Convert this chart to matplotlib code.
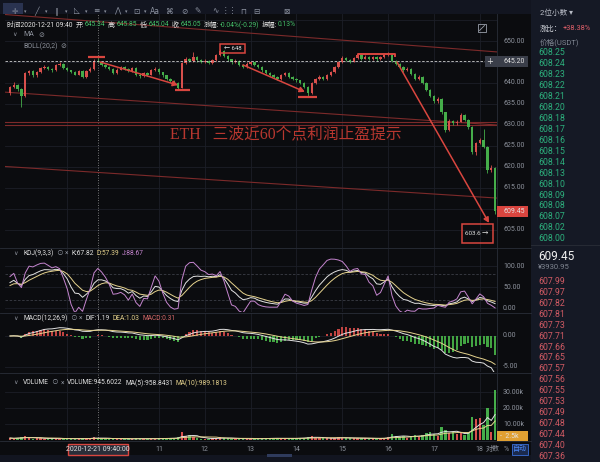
import numpy as np
import pandas as pd
import matplotlib
matplotlib.use("Agg")
import matplotlib.pyplot as plt
from matplotlib.patches import Rectangle, FancyArrowPatch

plt.rcParams['font.family'] = ['Roboto', 'Noto Sans CJK SC', 'DejaVu Sans']

# ---------------- data: ETH/USDT 5-minute candles, 2020-12-21 ----------------
first_bar_minute = 7 * 60 + 45      # 07:45
bar_minutes = 5
first_open = 637.6
close = [
    639.0, 639.5, 638.5, 636.9, 642.3, 642.8, 641.8, 642.6, 643.5, 643.9,
    643.3, 643.0, 644.2, 644.5, 643.6, 643.0, 642.6, 642.0, 642.8, 641.4,
    642.9, 643.4, 645.34, 645.05, 644.3, 643.9, 643.3, 642.4, 643.2, 643.8,
    643.4, 642.9, 643.6, 642.0, 641.6, 642.4, 642.0, 643.0, 643.4, 642.5,
    641.8, 641.0, 640.5, 640.0, 638.9, 644.8, 645.8, 645.2, 646.2, 645.4,
    645.0, 645.3, 644.8, 645.5, 646.6, 647.6, 646.4, 645.6, 644.9, 645.3,
    644.4, 643.8, 644.6, 644.9, 644.4, 643.8, 643.0, 642.4, 642.0, 641.5,
    641.0, 641.8, 642.3, 641.5, 641.0, 640.6, 640.0, 639.0, 637.6, 640.0,
    641.0, 641.4, 641.0, 641.8, 642.6, 643.8, 645.0, 646.0, 645.5, 645.1,
    646.0, 646.7, 645.8, 646.3, 645.7, 646.2, 645.6, 646.1, 646.6, 647.0,
    645.2, 644.6, 643.8, 643.0, 643.4, 642.2, 641.0, 641.5, 640.0, 638.4,
    637.0, 635.6, 636.2, 633.0, 628.8, 631.0, 630.4, 630.8, 632.4, 631.2,
    629.5, 623.6, 625.7, 626.4, 624.8, 619.3, 619.8, 609.45,
]
high = [
    639.4, 640.2, 639.8, 638.8, 642.6, 643.2, 643.0, 642.9, 643.8, 644.2,
    644.1, 643.6, 644.5, 644.9, 644.7, 643.8, 643.2, 642.8, 643.1, 643.0,
    643.2, 643.8, 645.7, 645.85, 645.3, 644.6, 644.1, 643.5, 643.5, 644.1,
    644.0, 643.6, 643.9, 643.8, 642.3, 642.7, 642.6, 643.3, 643.8, 643.6,
    642.7, 642.0, 641.2, 640.8, 640.2, 645.1, 646.2, 646.0, 647.4, 646.4,
    645.7, 645.6, 645.5, 645.8, 646.9, 648.0, 647.8, 646.6, 645.8, 645.6,
    645.5, 644.6, 644.9, 645.2, 645.1, 644.6, 644.0, 643.2, 642.6, 642.2,
    641.7, 642.1, 642.6, 642.5, 641.7, 641.2, 640.8, 640.2, 639.2, 640.3,
    641.3, 641.8, 641.6, 642.1, 642.9, 644.1, 645.3, 646.4, 646.2, 645.7,
    646.3, 647.2, 646.9, 646.6, 646.5, 646.5, 646.4, 646.4, 646.9, 647.3,
    647.2, 645.4, 644.8, 644.0, 643.7, 643.6, 642.4, 641.8, 641.7, 640.2,
    638.6, 637.2, 636.6, 636.4, 633.2, 631.4, 631.3, 631.2, 632.8, 632.6,
    631.4, 629.7, 626.0, 626.8, 629.0, 625.0, 620.4, 620.0,
]
low = [
    637.2, 638.8, 638.2, 634.2, 636.6, 642.0, 641.4, 641.5, 642.4, 643.3,
    643.0, 642.7, 642.8, 644.0, 643.3, 642.8, 642.3, 641.8, 641.8, 641.1,
    641.2, 642.7, 643.2, 645.04, 644.0, 643.6, 643.0, 642.1, 642.2, 643.0,
    643.1, 642.6, 642.7, 641.7, 641.3, 641.4, 641.7, 641.8, 642.8, 642.2,
    641.5, 640.7, 640.2, 639.7, 638.3, 638.7, 644.6, 644.9, 645.0, 645.1,
    644.7, 644.8, 644.5, 644.6, 645.3, 646.4, 646.1, 645.3, 644.6, 644.7,
    644.1, 643.5, 643.6, 644.4, 644.1, 643.5, 642.7, 642.1, 641.7, 641.2,
    640.7, 640.8, 641.6, 641.2, 640.7, 640.3, 639.7, 638.7, 636.9, 637.4,
    639.8, 640.8, 640.7, 640.8, 641.6, 642.4, 643.6, 644.8, 645.2, 644.8,
    644.9, 645.8, 645.5, 645.6, 645.4, 645.5, 645.3, 645.4, 645.9, 646.4,
    644.9, 644.3, 643.5, 642.7, 642.8, 641.9, 640.7, 640.8, 639.7, 638.1,
    636.6, 635.2, 635.3, 632.6, 628.4, 628.5, 630.0, 630.1, 630.6, 630.9,
    629.1, 623.2, 622.8, 625.4, 624.5, 618.6, 618.9, 608.8,
]
volume = [
    1210, 860, 1320, 1650, 2480, 1340, 920, 1080, 1150, 870,
    760, 690, 1120, 930, 820, 710, 650, 740, 880, 1030,
    960, 1110, 1890, 945.6, 1020, 830, 760, 980, 720, 690,
    640, 710, 830, 1050, 880, 760, 690, 820, 910, 1040,
    980, 1120, 1010, 1230, 1870, 5240, 2310, 2890, 1760, 1140,
    920, 860, 780, 940, 1320, 1680, 1150, 980, 870, 760,
    940, 830, 720, 690, 810, 930, 1040, 1120, 980, 1060,
    1130, 870, 820, 940, 1010, 1150, 1240, 1480, 1960, 2240,
    1430, 1080, 950, 1010, 1180, 1420, 1690, 1520, 1160, 980,
    1040, 1230, 1090, 940, 860, 970, 880, 1060, 1390, 2120,
    3860, 2210, 1940, 2350, 1560, 2670, 3120, 2080, 3350, 4120,
    5210, 3980, 2760, 8050, 6420, 4310, 4880, 3650, 4520, 2940,
    4760, 14200, 12900, 13600, 9100, 20300, 5200, 31200,
]
axis_hours = [11, 12, 13, 14, 15, 16, 17, 18]
grid_hours = [9, 11, 12, 13, 14, 15, 16, 17, 18]
cursor_bar = 23                      # 09:40
cursor_price = 645.20
last_price = 609.45
price_ticks = [650, 640, 635, 630, 625, 620, 615, 605]
kdj_ticks = [100, 50, 0]
macd_ticks = [0, -5]
vol_ticks = [30000, 20000, 10000]

ask_prices = ["608.25", "608.24", "608.23", "608.22", "608.21", "608.20", "608.18",
              "608.17", "608.16", "608.15", "608.14", "608.13", "608.10", "608.09",
              "608.08", "608.07", "608.02", "608.00"]
bid_prices = ["607.99", "607.97", "607.82", "607.81", "607.73", "607.71", "607.66",
              "607.65", "607.57", "607.56", "607.55", "607.53", "607.49", "607.48",
              "607.44", "607.40", "607.36"]

# ---------------- derived series ----------------
c = np.array(close)
h = np.array(high)
l = np.array(low)
o = np.r_[first_open, c[:-1]]
v = np.array(volume, dtype=float)
N = len(c)
idx = np.arange(N)

# KDJ(9,3,3)
K = np.zeros(N); D = np.zeros(N)
kp, dp = 50.0, 50.0
for t in range(N):
    lo = l[max(0, t - 8):t + 1].min(); hi = h[max(0, t - 8):t + 1].max()
    rsv = (c[t] - lo) / (hi - lo) * 100 if hi > lo else 50
    kp = 2 / 3 * kp + rsv / 3
    dp = 2 / 3 * dp + kp / 3
    K[t], D[t] = kp, dp
J = 3 * K - 2 * D

# MACD(12,26,9)
cs = pd.Series(c)
dif = (cs.ewm(span=12, adjust=False).mean() - cs.ewm(span=26, adjust=False).mean()).values
dea = pd.Series(dif).ewm(span=9, adjust=False).mean().values
hist = 2 * (dif - dea)

# volume moving averages
vma5 = pd.Series(v).rolling(5, min_periods=1).mean().values
vma10 = pd.Series(v).rolling(10, min_periods=1).mean().values

# ---------------- style ----------------
W, H = 600, 462
BG = '#0b0c0f'
PANEL = '#151925'
GRID = '#1c1f27'
SEP = '#2a2e38'
TXT = '#8c919b'
RED = '#d8504c'
GREEN = '#45ad4a'
YEL = '#e6d38e'
PUR = '#c585cf'
WHT = '#e2e2e2'
ANN = '#d9463f'
TREND = '#7c2a2a'


def fx(x):
    return x / W


def fy(y):
    return 1 - y / H


def ftxt(x, y, s, **kw):
    kw.setdefault('va', 'center')
    kw.setdefault('color', TXT)
    kw.setdefault('fontsize', 5)
    return fig.text(fx(x), fy(y), s, **kw)


def frect(x0, y0, x1, y1, **kw):
    r = Rectangle((fx(x0), fy(y1)), (x1 - x0) / W, (y1 - y0) / H,
                  transform=fig.transFigure, **kw)
    fig.patches.append(r)
    return r


def run_text(x, y, pieces, fontsize=5, **kw):
    """Lay out (text, colour, gap-after) pieces left to right on one line."""
    rend = fig.canvas.get_renderer()
    for s, cl, gap in pieces:
        t = ftxt(x, y, s, color=cl, fontsize=fontsize, **kw)
        x += t.get_window_extent(rend).width + gap
    return x


def px_axes(x0, y0, x1, y1, ylim):
    ax = fig.add_axes([fx(x0), fy(y1), (x1 - x0) / W, (y1 - y0) / H])
    ax.set_facecolor(BG)
    ax.set_xlim(-1.3, 127.5)
    ax.set_ylim(*ylim)
    for s in ['top', 'left', 'bottom']:
        ax.spines[s].set_visible(False)
    ax.spines['right'].set_color(SEP)
    ax.spines['right'].set_linewidth(0.6)
    ax.set_xticks([]); ax.set_yticks([])
    for hr in grid_hours:
        ax.axvline((hr * 60 - first_bar_minute) / bar_minutes, color=GRID, lw=0.6, zorder=0)
    ax.axvline(cursor_bar, color='#9a9a9a', lw=0.6, ls=(0, (1, 2)), zorder=1)
    return ax


def ylabel(ax, val, s, **kw):
    kw.setdefault('color', TXT)
    kw.setdefault('fontsize', 5)
    ax.text(1.0122, val, s, transform=ax.get_yaxis_transform(), va='center',
            ha='left', clip_on=False, **kw)


fig = plt.figure(figsize=(6, 4.62), dpi=100)
fig.patch.set_facecolor(BG)

# right-hand order book and top toolbar backgrounds
frect(531, 0, 600, 462, color=PANEL, lw=0)
frect(0, 0, 531, 14, color='#121520', lw=0)
frect(0, 455, 531, 462, color='#121520', lw=0)
frect(267, 454, 292, 457, color='#2f3b5c', lw=0)

# ---------------- main price panel ----------------
ax = px_axes(5, 14, 497, 248, (600.71, 656.43))
for p in range(605, 656, 5):
    ax.axhline(p, color=GRID, lw=0.6, zorder=0)

col = np.where(c >= o, RED, GREEN)
ax.vlines(idx, l, h, colors=col, lw=0.6, zorder=3)
ax.bar(idx, np.maximum(np.abs(c - o), 0.12), bottom=np.minimum(o, c),
       width=0.62, color=col, lw=0, zorder=3)

# drawn trend and support lines
trend_lines = [((-2.6, 656.4), (127.5, 647.4)),
               ((-2.6, 637.9), (127.5, 630.0)),
               ((-2.6, 630.8), (127.5, 630.8)),
               ((-2.6, 630.05), (127.5, 630.05)),
               ((-2.6, 620.2), (127.5, 612.6))]
for (x0, y0), (x1, y1) in trend_lines:
    ax.plot([x0, x1], [y0, y1], color=TREND, lw=0.8, zorder=2)

ax.axhline(cursor_price, color='#cfcfcf', lw=0.6, ls=(0, (3, 2)), zorder=4)

# swing markers
for x0, x1, p in [(20.4, 24.9, 646.2), (43.2, 47.1, 638.3), (75.4, 80.4, 636.7)]:
    ax.plot([x0, x1], [p, p], color=ANN, lw=1.6, zorder=5, solid_capstyle='butt')
ax.plot([91.1, 91.1, 100.8, 100.8], [646.4, 646.9, 646.9, 646.4], color=ANN, lw=1.4, zorder=5)

# arrows
for (x0, y0), (x1, y1) in [((23.6, 645.0), (44.0, 639.5)),
                           ((61.0, 644.3), (77.2, 637.9)),
                           ((101.3, 645.0), (125.4, 606.7))]:
    ax.add_patch(FancyArrowPatch((x0, y0), (x1, y1), arrowstyle='-|>,head_length=3,head_width=1.6',
                                 color=ANN, lw=1.1, zorder=6, shrinkA=0, shrinkB=0))

# annotation boxes
ax.add_patch(Rectangle((55.0, 647.1), 6.5, 2.3, fill=False, ec=ANN, lw=1.1, zorder=6))
ax.text(58.25, 648.25, '← 648', color=WHT, fontsize=4.3, ha='center', va='center', zorder=7)
ax.add_patch(Rectangle((118.3, 601.9), 8.1, 4.5, fill=False, ec=ANN, lw=1.1, zorder=6, clip_on=False))
ax.text(122.3, 604.1, '603.6 →', color=WHT, fontsize=4.5, ha='center', va='center', zorder=7)

ax.text(41.9, 627.6, 'ETH   三波近60个点利润止盈提示', color='#b8372f', fontsize=11.3,
        family=['Liberation Serif', 'Noto Sans CJK SC'], ha='left', va='center', zorder=6)

for p in price_ticks:
    ylabel(ax, p, f'{p:.2f}')

# ---------------- KDJ panel ----------------
axk = px_axes(5, 249, 497, 312, (-9.52, 140.5))
for val in kdj_ticks:
    axk.axhline(val, color=GRID, lw=0.6, zorder=0)
for val in [80, 20]:
    axk.axhline(val, color='#3b3e46', lw=0.6, ls=(0, (3, 2)), zorder=0)
axk.plot(idx, K, color=WHT, lw=0.7)
axk.plot(idx, D, color=YEL, lw=0.7)
axk.plot(idx, J, color=PUR, lw=0.7)
for val in kdj_ticks:
    ylabel(axk, val, f'{val:.2f}')

# ---------------- MACD panel ----------------
axm = px_axes(5, 313, 497, 372, (-5.81, 3.71))
for val in macd_ticks:
    axm.axhline(val, color=GRID, lw=0.6, zorder=0)
axm.bar(idx, hist, width=0.55, color=np.where(hist >= 0, '#c04442', '#42a442'), lw=0)
axm.plot(idx, dif, color=WHT, lw=0.7)
axm.plot(idx, dea, color=YEL, lw=0.7)
for val in macd_ticks:
    ylabel(axm, val, f'{val:.2f}')

# ---------------- volume panel ----------------
axv = px_axes(5, 373, 497, 440, (0, 41875))
for val in vol_ticks:
    axv.axhline(val, color=GRID, lw=0.6, zorder=0)
axv.bar(idx, v, width=0.62, color=col, lw=0)
axv.plot(idx, vma5, color=WHT, lw=0.7)
axv.plot(idx, vma10, color=YEL, lw=0.7)
for val in vol_ticks:
    ylabel(axv, val, f'{val / 1000:.2f}k')

for hr in axis_hours:
    axv.text((hr * 60 - first_bar_minute) / bar_minutes, -0.135, str(hr), color=TXT,
             fontsize=5, ha='center', va='center', transform=axv.get_xaxis_transform(),
             clip_on=False)

# panel separators
for y in [248.5, 312.5, 372.5, 440.5]:
    fig.add_artist(plt.Line2D([0, fx(531)], [fy(y), fy(y)], color=SEP, lw=0.6))

# ---------------- axis side boxes ----------------
frect(485, 56, 528, 67, color='#3a3e49', lw=0)
ftxt(490, 61.5, '+', color=WHT, fontsize=6, ha='center', family='DejaVu Sans')
ftxt(503, 61.5, f'{cursor_price:.2f}', color=WHT)
frect(497, 206, 528, 217, color='#d9453f', lw=0)
ftxt(503, 211.5, f'{last_price:.2f}', color=WHT)
frect(497, 431, 528, 441, color='#e0a032', lw=0)
ftxt(500, 436, '-  2.5k', color=WHT)

# cursor time box (circled in red)
frect(68, 444, 128, 455, facecolor='#2a2e39', edgecolor=ANN, lw=1.0)
ftxt(98, 449.5, '2020-12-21 09:40:00', color=WHT, ha='center')
ftxt(486, 449.5, '对数', fontsize=5)
ftxt(504, 449.5, '%', fontsize=5)
frect(512, 444, 528, 455, facecolor='#1b2a4d', edgecolor='#3a6fd8', lw=0.6)
ftxt(520, 449.5, '自动', color='#4d8cff', ha='center', fontsize=5)

# ---------------- toolbar ----------------
tools = ['✛', '╱', '∥', '◺', '≡', '⋀', '⊡', 'Aa', '⌘', '⊘', '✎', '∿', '⋮⋮', '⊓', '⊟', '⊠']
tx = [15, 37, 57, 77, 96, 117, 136, 155, 169, 184, 198, 215, 229, 243, 256, 286]
for t, x in zip(tools, tx):
    ftxt(x, 11, t, color='#8d93a0', fontsize=5.5, ha='center', family=['DejaVu Sans'])
for x in [25, 46, 66, 86, 105, 126, 145]:
    ftxt(x, 11.5, '▾', color='#8d93a0', fontsize=3.5, ha='center', family=['DejaVu Sans'])
frect(3, 3, 23, 14, color='#2a3350', lw=0)

# ---------------- info lines ----------------
INFO_G = '#45c06a'
run_text(7, 25, [('时间2020-12-21 09:40', WHT, 3),
                 ('开:', WHT, 0.3), ('645.34', INFO_G, 3),
                 ('高:', WHT, 0.3), ('645.85', INFO_G, 3),
                 ('低:', WHT, 0.3), ('645.04', INFO_G, 3),
                 ('收:', WHT, 0.3), ('645.05', INFO_G, 3),
                 ('涨幅:', WHT, 0.3), ('-0.04%(-0.29)', INFO_G, 3),
                 ('振幅:', WHT, 0.3), ('0.13%', INFO_G, 0)], fontsize=4.9)
ftxt(12, 35, '∨', color=TXT, family=['DejaVu Sans'], fontsize=4.5)
ftxt(23, 35, 'MA', color=TXT)
ftxt(38, 35, '⊘', color=TXT, family=['DejaVu Sans'])
ftxt(23, 46, 'BOLL(20,2)', color=TXT)
ftxt(60, 46, '⊘', color=TXT, family=['DejaVu Sans'])
# expand-view icon
frect(478, 24, 486, 32, fill=False, edgecolor='#9aa0ab', lw=0.6)
fig.add_artist(plt.Line2D([fx(479.5), fx(484.5)], [fy(30.5), fy(25.5)], color='#9aa0ab', lw=0.6))


# indicator headers
def header(y, name, items):
    ftxt(13, y, '∨', color=TXT, family=['DejaVu Sans'], fontsize=4.5)
    pieces = [(name, WHT, 2.5), ('⊙', TXT, 2.5), ('×', TXT, 2.5)]
    pieces += [(s, cl, 3) for s, cl in items]
    run_text(23, y, pieces, fontsize=4.8)


header(253, 'KDJ(9,3,3)', [('K:67.82', WHT), ('D:57.39', YEL), ('J:88.67', PUR)])
header(318, 'MACD(12,26,9)', [('DIF:1.19', WHT), ('DEA:1.03', YEL), ('MACD:0.31', '#d86a6a')])
header(383, 'VOLUME', [('VOLUME:945.6022', WHT), ('MA(5):958.8431', WHT), ('MA(10):989.1813', YEL)])

# ---------------- order book ----------------
ftxt(540, 12, '2位小数 ▾', color='#b8bcc6', fontsize=5.5)
run_text(540, 29, [('涨比：', '#d0d3da', 0.5), ('+38.38%', '#e0606a', 0)], fontsize=5.3)
ftxt(540, 42, '价格(USDT)', color='#7f8591', fontsize=5.5)
for k, s in enumerate(ask_prices):
    ftxt(538, 52.7 + 10.95 * k, s, color='#2cae7c', fontsize=6.3)
fig.add_artist(plt.Line2D([fx(531), 1], [fy(245), fy(245)], color=SEP, lw=0.6))
ftxt(538, 256, f'{last_price:.2f}', color='#f0f0f0', fontsize=8.5)
ftxt(538, 267, '¥3930.95', color='#7f8591', fontsize=5.5)
for k, s in enumerate(bid_prices):
    ftxt(538, 281.7 + 10.9 * k, s, color='#cf5a63', fontsize=6.3)

fig.savefig('out.png', dpi=100, facecolor=BG)
